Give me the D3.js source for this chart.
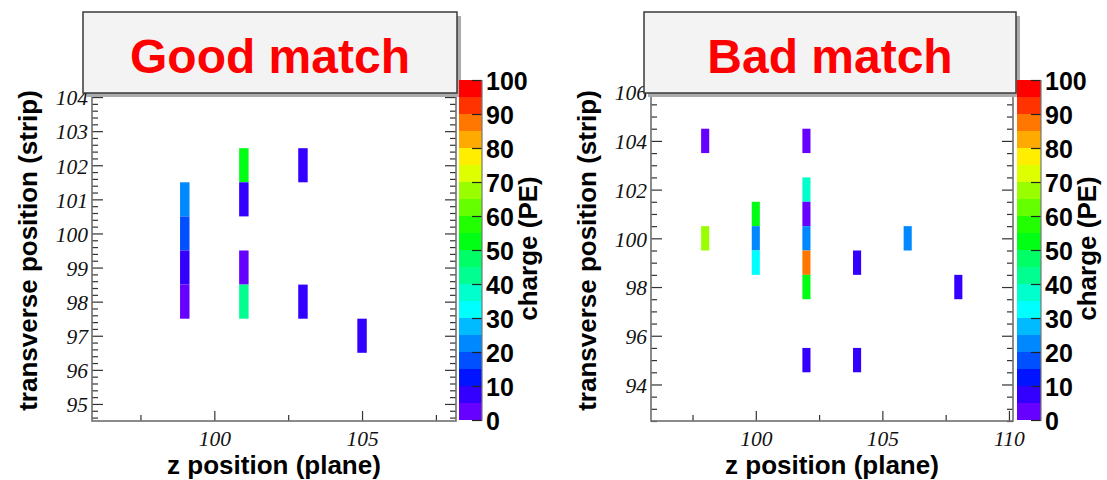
<!DOCTYPE html>
<html>
<head>
<meta charset="utf-8">
<script src="https://cdn.jsdelivr.net/npm/d3@7"></script>
<style>
  html, body { margin: 0; padding: 0; background: #ffffff; }
  svg { display: block; }
</style>
</head>
<body>
<svg id="chart" width="1107" height="480"></svg>
<script>
// Charge palette: 20 contour levels from 0 to 100 PE (bottom to top)
const palette = [
  "#6600ff", "#3300ff", "#0014ff", "#0050ff", "#0088ff",
  "#00bbff", "#00ffff", "#00ffcc", "#00ff90", "#00ff66",
  "#00ff14", "#22ff00", "#66ff00", "#99ff00", "#ddff00",
  "#ffee00", "#ffaa00", "#ff7700", "#ff3300", "#ff0000"
];
const chargeTicks = [0, 10, 20, 30, 40, 50, 60, 70, 80, 90, 100];

// Left panel hits: plane, strip, charge (PE)
const goodTitle = "Good match";
const goodPlane  = [99, 99, 99, 99, 101, 101, 101, 101, 103, 103, 105];
const goodStrip  = [101, 100, 99, 98, 102, 101, 99, 98, 102, 98, 97];
const goodCharge = [22, 17, 7, 3, 52, 7, 3, 43, 7, 7, 7];

// Right panel hits
const badTitle = "Bad match";
const badPlane  = [98, 98, 100, 100, 100, 102, 102, 102, 102, 102, 102, 102, 104, 104, 106, 108];
const badStrip  = [104, 100, 101, 100, 99, 104, 102, 101, 100, 99, 98, 95, 99, 95, 100, 98];
const badCharge = [3, 67, 52, 22, 32, 3, 37, 3, 22, 87, 52, 7, 7, 7, 22, 7];

// Axis tick values
const goodXMajor = [100, 105];
const goodXMinor = [97.5, 102.5, 107.5];
const goodYMajor = [95, 96, 97, 98, 99, 100, 101, 102, 103, 104];
const badXMajor = [100, 105, 110];
const badXMinor = [97.5, 102.5, 107.5];
const badYMajor = [94, 96, 98, 100, 102, 104, 106];

const svg = d3.select("#chart");
const SANS = "'Liberation Sans', Arial, Helvetica, sans-serif";
const SERIF = "'Liberation Serif', 'Times New Roman', serif";

const zColor = d3.scaleQuantize().domain([0, 100]).range(palette);

function panel(cfg) {
  const g = svg.append("g");
  const x = d3.scaleLinear().domain(cfg.xDomain).range([cfg.left, cfg.right]);
  const y = d3.scaleLinear().domain(cfg.yDomain).range([cfg.bottom, cfg.top]);

  // histogram cells
  const cells = cfg.plane.map((p, i) => ({ p, s: cfg.strip[i], c: cfg.charge[i] }));
  g.append("g").selectAll("rect").data(cells).join("rect")
    .attr("x", d => x(d.p - 0.16))
    .attr("width", d => x(d.p + 0.16) - x(d.p - 0.16))
    .attr("y", d => y(d.s + 0.5))
    .attr("height", d => y(d.s - 0.5) - y(d.s + 0.5))
    .attr("fill", d => zColor(d.c));

  const tickStyle = sel => {
    sel.select(".domain").remove();
    sel.selectAll(".tick line").attr("stroke", "#333").attr("stroke-width", 1.2);
  };

  // y axis left: major with labels, minor without
  const yMinor = d3.range(Math.ceil(cfg.yDomain[0] / cfg.yMinorStep) * cfg.yMinorStep,
                          cfg.yDomain[1] + 1e-9, cfg.yMinorStep)
    .map(v => +v.toFixed(3)).filter(v => !cfg.yMajor.includes(v));
  const yl = g.append("g").attr("transform", `translate(${cfg.left},0)`)
    .call(d3.axisLeft(y).tickValues(cfg.yMajor).tickSize(-11).tickSizeOuter(0).tickPadding(4).tickFormat(d3.format("d")))
    .call(tickStyle);
  yl.selectAll(".tick text")
    .attr("font-family", SERIF).attr("font-style", "italic").attr("font-size", 21.5)
    .attr("fill", "#111").attr("dy", "0.36em");
  g.append("g").attr("transform", `translate(${cfg.left},0)`)
    .call(d3.axisLeft(y).tickValues(yMinor).tickSize(-6).tickSizeOuter(0).tickFormat(""))
    .call(tickStyle);
  // y axis ticks on the right edge
  g.append("g").attr("transform", `translate(${cfg.right},0)`)
    .call(d3.axisRight(y).tickValues(cfg.yMajor).tickSize(-11).tickSizeOuter(0).tickFormat(""))
    .call(tickStyle);
  g.append("g").attr("transform", `translate(${cfg.right},0)`)
    .call(d3.axisRight(y).tickValues(yMinor).tickSize(-6).tickSizeOuter(0).tickFormat(""))
    .call(tickStyle);

  // x axis
  const xb = g.append("g").attr("transform", `translate(0,${cfg.bottom})`)
    .call(d3.axisBottom(x).tickValues(cfg.xMajor).tickSize(-10).tickSizeOuter(0).tickFormat(d3.format("d")))
    .call(tickStyle);
  xb.selectAll(".tick text")
    .attr("font-family", SERIF).attr("font-style", "italic").attr("font-size", 21.5)
    .attr("fill", "#111").attr("dy", null).attr("y", 25);
  g.append("g").attr("transform", `translate(0,${cfg.bottom})`)
    .call(d3.axisBottom(x).tickValues(cfg.xMinor).tickSize(-6).tickSizeOuter(0).tickFormat(""))
    .call(tickStyle);

  // frame
  g.append("rect")
    .attr("x", cfg.left).attr("y", cfg.top)
    .attr("width", cfg.right - cfg.left).attr("height", cfg.bottom - cfg.top)
    .attr("fill", "none").attr("stroke", "#6e6e6e").attr("stroke-width", 1.6);

  // axis titles
  g.append("text")
    .attr("x", (cfg.left + cfg.right) / 2).attr("y", cfg.bottom + 53)
    .attr("text-anchor", "middle")
    .attr("font-family", SANS).attr("font-weight", "bold").attr("font-size", 26)
    .attr("fill", "#000").text("z position (plane)");
  g.append("text")
    .attr("transform", `translate(${cfg.left - 55.5},${(cfg.top + cfg.bottom) / 2}) rotate(-90)`)
    .attr("text-anchor", "middle")
    .attr("font-family", SANS).attr("font-weight", "bold").attr("font-size", 26)
    .attr("fill", "#000").text("transverse position (strip)");

  // title box with shadow
  const bx = cfg.boxLeft, bw = cfg.boxRight - cfg.boxLeft, byTop = 12, bh = 81;
  g.append("rect").attr("x", bx + 4).attr("y", byTop + 4).attr("width", bw).attr("height", bh)
    .attr("fill", "#ababab");
  g.append("rect").attr("x", bx).attr("y", byTop).attr("width", bw).attr("height", bh)
    .attr("fill", "#f3f3f3").attr("stroke", "#3a3a3a").attr("stroke-width", 1.5);
  g.append("text")
    .attr("x", bx + bw / 2).attr("y", 73)
    .attr("text-anchor", "middle")
    .attr("font-family", SANS).attr("font-weight", "bold").attr("font-size", 48)
    .attr("fill", "#ff0000").text(cfg.title);

  // colour scale bar
  const z = d3.scaleLinear().domain([0, 100]).range([cfg.bottom - 1, cfg.top]);
  const cb = g.append("g");
  cb.selectAll("rect").data(palette).join("rect")
    .attr("x", cfg.cbLeft)
    .attr("width", cfg.cbRight - cfg.cbLeft)
    .attr("y", (d, i) => z((i + 1) * 5))
    .attr("height", (d, i) => z(i * 5) - z((i + 1) * 5))
    .attr("fill", d => d);
  const za = g.append("g").attr("transform", `translate(${cfg.cbRight},0)`)
    .call(d3.axisRight(z).tickValues(chargeTicks).tickSize(-10).tickSizeOuter(0).tickPadding(4));
  za.select(".domain").remove();
  za.selectAll(".tick line").attr("stroke", "#222").attr("stroke-width", 1.2);
  za.selectAll(".tick text")
    .attr("font-family", SANS).attr("font-weight", "bold").attr("font-size", 25)
    .attr("fill", "#000").attr("dy", "0.36em");
  g.append("line")
    .attr("x1", cfg.cbRight).attr("x2", cfg.cbRight).attr("y1", cfg.top).attr("y2", cfg.bottom)
    .attr("stroke", "#777").attr("stroke-width", 1.2);
  g.append("text")
    .attr("transform", `translate(${cfg.cbRight + 55},${(cfg.top + cfg.bottom) / 2 - 2}) rotate(-90)`)
    .attr("text-anchor", "middle")
    .attr("font-family", SANS).attr("font-weight", "bold").attr("font-size", 26)
    .attr("fill", "#000").text("charge (PE)");
}

panel({
  title: goodTitle, plane: goodPlane, strip: goodStrip, charge: goodCharge,
  xDomain: [95.86, 108.18], yDomain: [94.5, 104.5],
  left: 92, right: 456, top: 80, bottom: 421,
  xMajor: goodXMajor, xMinor: goodXMinor, yMajor: goodYMajor, yMinorStep: 0.2,
  boxLeft: 83, boxRight: 457, cbLeft: 459, cbRight: 482
});

panel({
  title: badTitle, plane: badPlane, strip: badStrip, charge: badCharge,
  xDomain: [95.86, 110.16], yDomain: [92.5, 106.5],
  left: 651, right: 1013, top: 80, bottom: 421,
  xMajor: badXMajor, xMinor: badXMinor, yMajor: badYMajor, yMinorStep: 0.5,
  boxLeft: 644, boxRight: 1016, cbLeft: 1017, cbRight: 1041
});
</script>
</body>
</html>
